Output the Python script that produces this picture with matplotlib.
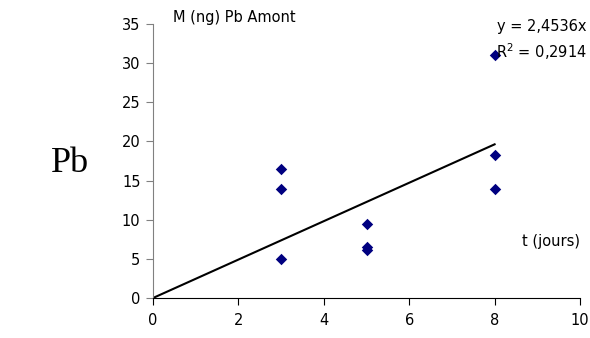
import numpy as np
import matplotlib
matplotlib.use("Agg")
import matplotlib.pyplot as plt

# data
t_jours = [3, 3, 3, 5, 5, 5, 8, 8, 8]
m_pb = [16.5, 13.9, 5.0, 9.4, 6.5, 6.1, 31.1, 18.3, 13.9]
slope = 2.4536
fit_x = [0, 8]

plt.rcParams['font.family'] = ['DejaVu Sans']
plt.rcParams['mathtext.fontset'] = 'dejavusans'

fig = plt.figure(figsize=(5.9, 3.38), dpi=100)
ax = fig.add_axes([153/590, 1 - 298/338, (580 - 153)/590, (298 - 24)/338])

ax.plot(fit_x, [slope * v for v in fit_x], color='black', linewidth=1.5, zorder=2)
ax.scatter(t_jours, m_pb, marker='D', s=34, color='#000080', zorder=3, linewidths=0)

ax.set_xlim(0, 10)
ax.set_ylim(0, 35)
ax.set_xticks(np.arange(0, 11, 2))
ax.set_yticks(np.arange(0, 36, 5))
ax.spines['top'].set_visible(False)
ax.spines['right'].set_visible(False)
ax.spines['left'].set_color('#808080')
ax.spines['bottom'].set_color('black')
ax.tick_params(axis='y', colors='#808080', labelcolor='black', length=5, labelsize=10.5, pad=4)
ax.tick_params(axis='x', colors='black', length=5, labelsize=10.5, pad=6)

ax.text(0.047, 1.022, 'M (ng) Pb Amont', transform=ax.transAxes, fontsize=10.5, va='center', ha='left')
ax.text(1.016, 0.99, 'y = 2,4536x', transform=ax.transAxes, fontsize=10.5, va='center', ha='right')
ax.text(1.016, 0.90, '$\\mathregular{R^2}$ = 0,2914', transform=ax.transAxes, fontsize=10.5, va='center', ha='right')
ax.text(1.0, 0.205, 't (jours)', transform=ax.transAxes, fontsize=10.5, va='center', ha='right')

fig.text(70/590, 1 - 163/338, 'Pb', fontsize=26, family='Liberation Serif', ha='center', va='center')

fig.savefig('out.png', dpi=100)
